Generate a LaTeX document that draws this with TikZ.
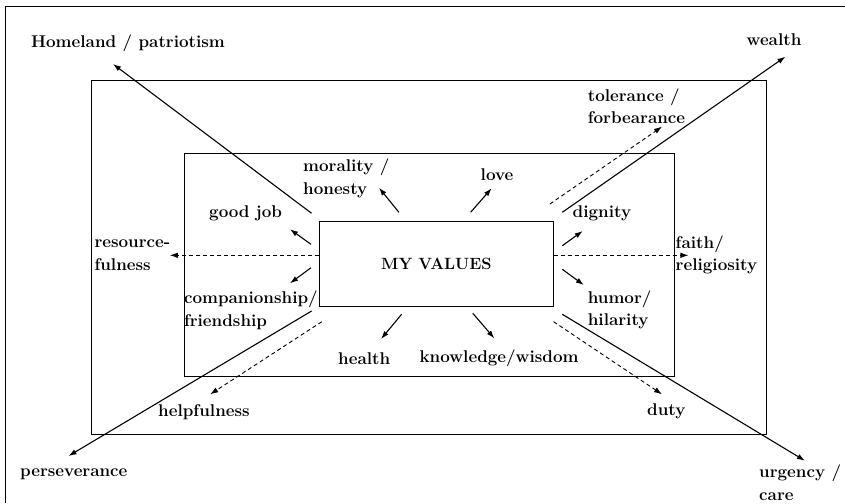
\documentclass[tikz,border=0pt]{standalone}
\usetikzlibrary{arrows.meta}
\tikzset{>={Latex[length=8pt,width=5.5pt]}}

\begin{document}
\begin{tikzpicture}[x=1pt, y=-1pt,
  lbl/.style = {font=\fontsize{17}{22.5}\selectfont\bfseries, inner sep=0pt, align=left},
  longarr/.style = {->, line width=1.1pt},
  shortarr/.style = {->, line width=1.1pt},
  dotarr/.style = {->, line width=0.9pt, dash pattern=on 4pt off 3pt}]

\useasboundingbox (0,0) rectangle (845,503);
\fill[white] (0,0) rectangle (845,503);

% frames
\draw[line width=0.8pt] (5,503) -- (5,6) -- (845,6);
\draw[line width=1pt] (91.5,80.5) rectangle (766.5,434.5);
\draw[line width=1pt] (184,153) rectangle (674,376);
\node[draw, line width=1.3pt, minimum width=234pt, minimum height=85pt, inner sep=0pt,
      font=\fontsize{16.3}{18}\selectfont\bfseries] (vals) at (436.3,263.7) {MY VALUES};

% end points of the connectors
\coordinate (hmA) at (311.6,213.3);  \coordinate (hmB) at (113,64);
\coordinate (wlA) at (562.3,212.3);  \coordinate (wlB) at (785.4,56.7);
\coordinate (psA) at (311.6,311);    \coordinate (psB) at (68.5,456);
\coordinate (urA) at (562.3,314.3);  \coordinate (urB) at (804.9,460.7);

\coordinate (rsA) at (319,255.3);    \coordinate (rsB) at (169.8,255.3);
\coordinate (ftA) at (553.6,255.3);  \coordinate (ftB) at (688.4,255.3);
\coordinate (tlA) at (549.9,204);    \coordinate (tlB) at (662,126.7);
\coordinate (hpA) at (321.8,321.7);  \coordinate (hpB) at (210.2,394.3);
\coordinate (dtA) at (553.6,321.7);  \coordinate (dtB) at (662,394.3);

\coordinate (mrA) at (398.9,212.3);  \coordinate (mrB) at (379,187.7);
\coordinate (lvA) at (470.6,212.3);  \coordinate (lvB) at (491.6,188.3);
\coordinate (gjA) at (311,244.3);    \coordinate (gjB) at (290,229.3);
\coordinate (cpA) at (311,267.7);    \coordinate (cpB) at (290,283.3);
\coordinate (dgA) at (562.3,245.7);  \coordinate (dgB) at (582.7,231);
\coordinate (huA) at (562.3,269.3);  \coordinate (huB) at (583.8,285);
\coordinate (heA) at (401.6,314.3);  \coordinate (heB) at (381.1,339);
\coordinate (knA) at (472.8,313.3);  \coordinate (knB) at (494.3,338.3);

% long arrows
\draw[longarr] (hmA) -- (hmB);
\draw[longarr] (wlA) -- (wlB);
\draw[longarr] (psA) -- (psB);
\draw[longarr] (urA) -- (urB);

% dashed arrows
\draw[dotarr] (rsA) -- (rsB);
\draw[dotarr] (ftA) -- (ftB);
\draw[dotarr] (tlA) -- (tlB);
\draw[dotarr] (hpA) -- (hpB);
\draw[dotarr] (dtA) -- (dtB);

% short arrows
\draw[shortarr] (mrA) -- (mrB);
\draw[shortarr] (lvA) -- (lvB);
\draw[shortarr] (gjA) -- (gjB);
\draw[shortarr] (cpA) -- (cpB);
\draw[shortarr] (dgA) -- (dgB);
\draw[shortarr] (huA) -- (huB);
\draw[shortarr] (heA) -- (heB);
\draw[shortarr] (knA) -- (knB);

% labels
\node[lbl, anchor=west] (homeland) at (31,43) {Homeland / patriotism};
\node[lbl, anchor=west] (wealth) at (746.5,40) {wealth};
\node[lbl, anchor=west] (toler) at (587.6,106.3) {tolerance /\\forbearance};
\node[lbl, anchor=west] (moral) at (303,178.3) {morality /\\honesty};
\node[lbl] (love) at (497,174.3) {love};
\node[lbl, anchor=west] (goodjob) at (209,213.3) {good job};
\node[lbl, anchor=west] (dignity) at (572.5,213.3) {dignity};
\node[lbl, anchor=west] (resource) at (94.3,255) {resource-\\fulness};
\node[lbl, anchor=west] (faith) at (675.5,255) {faith/\\religiosity};
\node[lbl, anchor=west] (compan) at (183.8,310.5) {companionship/\\friendship};
\node[lbl, anchor=west] (humor) at (587.6,310) {humor/\\hilarity};
\node[lbl, anchor=west] (health) at (338,358.3) {health};
\node[lbl, anchor=west] (knowl) at (419.4,358.3) {knowledge/wisdom};
\node[lbl, anchor=west] (helpf) at (158,411.7) {helpfulness};
\node[lbl, anchor=west] (duty) at (647,411.7) {duty};
\node[lbl, anchor=west] (persev) at (20,474.3) {perseverance};
\node[lbl, anchor=west] (urgency) at (759,482.5) {urgency /\\care};

\end{tikzpicture}
\end{document}
